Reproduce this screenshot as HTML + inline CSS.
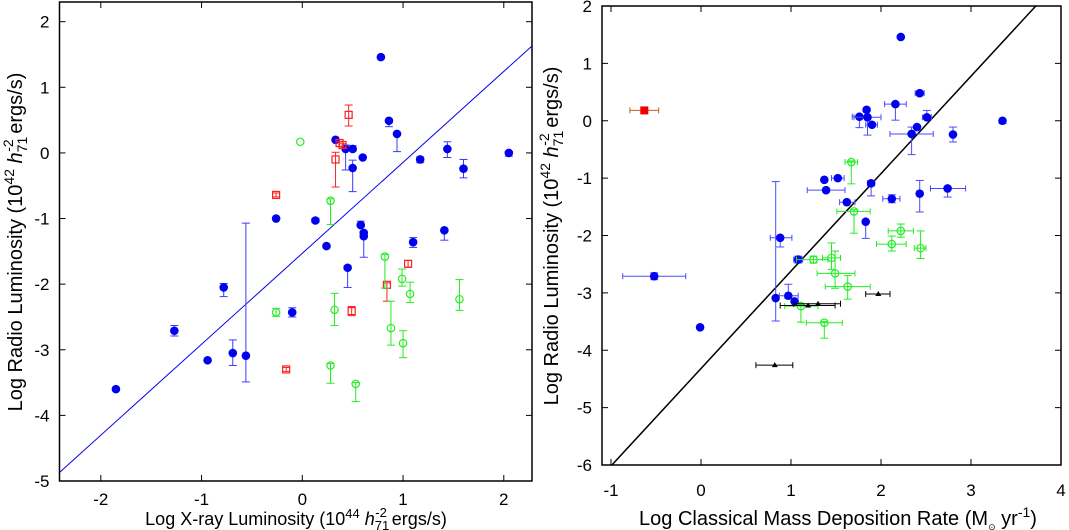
<!DOCTYPE html>
<html><head><meta charset="utf-8"><style>
html,body{margin:0;padding:0;background:#fff;width:1069px;height:530px;overflow:hidden}
svg{position:absolute;left:0;top:0}
text{font-family:"Liberation Sans",sans-serif;fill:#000}
</style></head><body>
<svg id="chart" width="1069" height="530"></svg>
<script>
// ---- Left panel data: [x, y, ylo, yhi]
const leftBlue = [
[-1.85,-3.60,-3.62,-3.58],[-1.27,-2.71,-2.79,-2.63],[-0.94,-3.16,-3.18,-3.14],[-0.78,-2.05,-2.19,-1.99],
[-0.69,-3.05,-3.24,-2.85],[-0.56,-3.09,-3.49,-1.07],[-0.26,-1.00,-1.02,-0.98],[-0.10,-2.43,-2.50,-2.36],
[0.13,-1.03,-1.06,-1.00],[0.24,-1.42,-1.44,-1.40],[0.33,0.20,0.18,0.22],[0.43,0.06,-0.26,0.12],
[0.50,0.06,0.03,0.11],[0.50,-0.23,-0.59,-0.11],[0.45,-1.75,-2.05,-1.72],[0.60,-0.07,-0.09,-0.05],
[0.58,-1.10,-1.12,-1.04],[0.61,-1.22,-1.24,-1.20],[0.61,-1.27,-1.59,-1.25],[0.78,1.46,1.44,1.48],
[0.86,0.49,0.40,0.51],[0.94,0.29,0.02,0.31],[1.10,-1.36,-1.44,-1.29],[1.17,-0.10,-0.15,-0.06],
[1.41,-1.18,-1.33,-1.16],[1.44,0.06,-0.07,0.17],[1.60,-0.24,-0.38,-0.10],[2.05,0.00,-0.05,0.02]];
const leftRed = [
[0.46,0.58,0.41,0.73],[0.37,0.15,0.10,0.17],[0.40,0.12,0.09,0.14],[0.33,-0.10,-0.52,0.01],
[-0.26,-0.64,-0.67,-0.61],[-0.16,-3.30,-3.33,-3.27],[0.49,-2.41,-2.48,-2.34],[0.84,-2.01,-2.26,-1.98],[1.05,-1.69,-1.74,-1.64]];
const leftGreen = [
[-0.02,0.17,0.15,0.19],[0.28,-0.73,-1.09,-0.70],[-0.26,-2.43,-2.49,-2.37],[0.32,-2.39,-2.63,-2.14],
[0.28,-3.24,-3.51,-3.21],[0.53,-3.52,-3.79,-3.50],[0.82,-1.58,-2.06,-1.55],[0.99,-1.92,-2.03,-1.77],
[1.07,-2.15,-2.28,-1.97],[0.88,-2.67,-2.93,-2.26],[1.00,-2.90,-3.12,-2.71],[1.56,-2.23,-2.40,-1.93]];
const leftFit = [[-2.41,-4.87],[2.28,1.63]];
const leftXTicks = [-2,-1,0,1,2];
const leftYTicks = [2,1,0,-1,-2,-3,-4,-5];
// ---- Right panel data: [x, y, xlo, xhi, ylo, yhi]
const rightBlue = [
[-0.52,-2.71,-0.87,-0.17,-2.77,-2.65],[-0.01,-3.60,-0.03,0.01,-3.62,-3.58],[0.88,-2.04,0.77,1.01,-2.20,-2.02],
[0.83,-3.09,0.82,0.84,-3.49,-1.06],[0.97,-3.05,0.87,1.08,-3.10,-2.85],[1.04,-3.15,1.02,1.06,-3.17,-3.13],
[1.08,-2.42,1.03,1.13,-2.48,-2.36],[1.37,-1.03,1.35,1.39,-1.05,-1.01],[1.52,-1.00,1.45,1.59,-1.02,-0.98],
[1.39,-1.21,1.18,1.60,-1.23,-1.19],[1.62,-1.42,1.54,1.71,-1.44,-1.40],[1.83,-1.76,1.81,1.85,-2.05,-1.74],
[1.76,0.07,1.68,1.84,-0.12,0.09],[1.84,0.19,1.82,1.86,0.17,0.21],[1.85,0.06,1.70,2.00,-0.25,0.08],
[1.90,-0.07,1.83,1.96,-0.09,-0.05],[1.89,-1.09,1.85,1.93,-1.31,-1.05],[2.16,0.29,2.04,2.28,0.01,0.31],
[2.22,1.46,2.20,2.24,1.44,1.48],[2.12,-1.36,2.02,2.21,-1.43,-1.29],[2.34,-0.23,2.10,2.58,-0.59,-0.11],
[2.40,-0.11,2.38,2.42,-0.13,-0.09],[2.43,0.48,2.38,2.48,0.46,0.50],[2.51,0.06,2.46,2.56,0.04,0.18],
[2.43,-1.27,2.41,2.45,-1.59,-1.04],[2.74,-1.18,2.55,2.94,-1.33,-1.16],[2.80,-0.24,2.78,2.82,-0.37,-0.11],
[3.35,0.00,3.33,3.37,-0.05,0.02]];
const rightRed = [[-0.63,0.18,-0.79,-0.47,0.16,0.20]];
const rightGreen = [
[1.67,-0.72,1.60,1.74,-1.10,-0.70],[1.70,-1.58,1.51,1.88,-1.96,-1.55],[2.22,-1.92,2.08,2.36,-2.03,-1.80],
[2.12,-2.15,1.95,2.28,-2.27,-2.01],[2.44,-2.22,2.37,2.50,-2.40,-1.92],[1.25,-2.42,1.06,1.41,-2.48,-2.36],
[1.45,-2.39,1.35,1.55,-2.59,-2.13],[1.49,-2.66,1.29,1.71,-2.92,-2.27],[1.63,-2.89,1.38,1.88,-3.11,-2.70],
[1.11,-3.23,0.93,1.30,-3.51,-3.20],[1.37,-3.52,1.17,1.57,-3.79,-3.50]];
const rightBlack = [[0.82,-4.26,0.61,1.02],[1.19,-3.22,0.88,1.49],[1.30,-3.19,1.03,1.55],[1.97,-3.02,1.83,2.10]];
const rightFit = [[-0.99,-6],[3.72,2]];
const rightXTicks = [-1,0,1,2,3,4];
const rightYTicks = [2,1,0,-1,-2,-3,-4,-5,-6];

const NS='http://www.w3.org/2000/svg';
const svg=document.getElementById('chart');
function mk(tag,attrs,parent){const e=document.createElementNS(NS,tag);for(const k in attrs)e.setAttribute(k,attrs[k]);(parent||svg).appendChild(e);return e;}

function panel(p){
  const g=mk('g',{});
  
  
  const sx=v=>p.L+(v-p.x0)/(p.x1-p.x0)*(p.R-p.L);
  const sy=v=>p.B-(v-p.y0)/(p.y1-p.y0)*(p.B-p.T);
  const fl=mk('line',{x1:sx(p.fit[0][0]),y1:sy(p.fit[0][1]),x2:sx(p.fit[1][0]),y2:sy(p.fit[1][1]),stroke:p.fitColor,'stroke-width':p.fitW},g);
  
  
  function series(arr,color,ecol,shape,sname,hasX){
    const sg=mk('g',{},g);
    
    
    arr.forEach(d=>{
      const cx=sx(d[0]),cy=sy(d[1]);
      let ylo,yhi;
      if(hasX){
        const xa=sx(d[2]),xb=sx(d[3]);
        if(xb-xa>3){
          mk('line',{x1:xa,y1:cy,x2:xb,y2:cy,stroke:ecol,'stroke-width':1},sg);
          mk('line',{x1:xa,y1:cy-3,x2:xa,y2:cy+3,stroke:ecol,'stroke-width':1},sg);
          mk('line',{x1:xb,y1:cy-3,x2:xb,y2:cy+3,stroke:ecol,'stroke-width':1},sg);
        }
        ylo=d[4];yhi=d[5];
      } else {ylo=d[2];yhi=d[3];}
      if(ylo!==undefined){
        const ya=sy(ylo),yb=sy(yhi);
        if(Math.abs(ya-yb)>3){
          mk('line',{x1:cx,y1:ya,x2:cx,y2:yb,stroke:ecol,'stroke-width':1},sg);
          mk('line',{x1:cx-4,y1:ya,x2:cx+4,y2:ya,stroke:ecol,'stroke-width':1},sg);
          mk('line',{x1:cx-4,y1:yb,x2:cx+4,y2:yb,stroke:ecol,'stroke-width':1},sg);
        }
      }
      let m;
      if(shape==='dot') m=mk('circle',{cx:cx,cy:cy,r:4.3,fill:color},sg);
      else if(shape==='ring') m=mk('circle',{cx:cx,cy:cy,r:3.7,fill:'none',stroke:color,'stroke-width':1.2},sg);
      else if(shape==='sq') m=mk('rect',{x:cx-3.5,y:cy-3.5,width:7,height:7,fill:'none',stroke:color,'stroke-width':1.2},sg);
      else if(shape==='fsq') m=mk('rect',{x:cx-4,y:cy-4,width:8,height:8,fill:color},sg);
      else m=mk('polygon',{points:(cx-3)+','+(cy+2)+' '+(cx+3)+','+(cy+2)+' '+cx+','+(cy-3),fill:color},sg);
      
      
    });
  }
  p.series.forEach(s=>series(s[0],s[1],s[2],s[3],s[4],p.hasX));
  const fr=mk('rect',{x:p.L,y:p.T,width:p.R-p.L,height:p.B-p.T,fill:'none',stroke:'#000','stroke-width':1.5},g);
  
  
  p.xt.forEach(v=>{
    const x=sx(v);
    mk('line',{x1:x,y1:p.B,x2:x,y2:p.B-6,stroke:'#000'},g);
    mk('line',{x1:x,y1:p.T,x2:x,y2:p.T+6,stroke:'#000'},g);
    const t=mk('text',{x:x,y:p.B+p.xlOff,'text-anchor':'middle','font-size':17},g);
    t.textContent=v;
    
    
  });
  p.yt.forEach(v=>{
    const y=sy(v);
    mk('line',{x1:p.L,y1:y,x2:p.L+6,y2:y,stroke:'#000'},g);
    mk('line',{x1:p.R,y1:y,x2:p.R-6,y2:y,stroke:'#000'},g);
    const t=mk('text',{x:p.L-10,y:y+6,'text-anchor':'end','font-size':17},g);
    t.textContent=v;
    
    
  });
}
panel({name:'left-panel',L:59.5,R:532,T:2,B:481,x0:-2.41,x1:2.28,y0:-5,y1:2.3,fit:leftFit,fitColor:'#0000ee',fitW:1,hasX:false,xlOff:24,
  xt:leftXTicks,yt:leftYTicks,
  series:[[leftBlue,'#0000ee','#3a3aff','dot','blue-series'],[leftRed,'#ff2020','#ff2020','sq','red-series'],[leftGreen,'#22ee22','#22ee22','ring','green-series']]});
panel({name:'right-panel',L:602,R:1061,T:6,B:465,x0:-1.1,x1:4,y0:-6,y1:2,fit:rightFit,fitColor:'#000',fitW:1.5,hasX:true,xlOff:31,
  xt:rightXTicks,yt:rightYTicks,
  series:[[rightBlue,'#0000ee','#4a4aff','dot','blue-series'],[rightRed,'#ee0000','#c06020','fsq','red-series'],[rightGreen,'#22ee22','#22ee22','ring','green-series'],[rightBlack,'#000','#000','tri','black-series']]});
</script>
<svg width="1069" height="530" style="pointer-events:none">
<text x="296" y="525" text-anchor="middle" font-size="18">Log X-ray Luminosity (10<tspan dy="-7" font-size="13">44</tspan><tspan dy="7"> </tspan><tspan font-style="italic">h</tspan><tspan dy="5" font-size="13">71</tspan><tspan dy="-13" dx="-14" font-size="13">-2</tspan><tspan dy="8"> ergs/s)</tspan></text>
<text transform="translate(22,242) rotate(-90)" text-anchor="middle" font-size="20">Log Radio Luminosity (10<tspan dy="-8" font-size="14">42</tspan><tspan dy="8"> </tspan><tspan font-style="italic">h</tspan><tspan dy="5" font-size="14">71</tspan><tspan dy="-14" dx="-15" font-size="14">-2</tspan><tspan dy="9"> ergs/s)</tspan></text>
<text x="838" y="525" text-anchor="middle" font-size="20">Log Classical Mass Deposition Rate (M<tspan dy="5" font-size="9">⊙</tspan><tspan dy="-5">  yr</tspan><tspan dy="-8" font-size="14">-1</tspan><tspan dy="8">)</tspan></text>
<text transform="translate(558,236) rotate(-90)" text-anchor="middle" font-size="20">Log Radio Luminosity (10<tspan dy="-8" font-size="14">42</tspan><tspan dy="8"> </tspan><tspan font-style="italic">h</tspan><tspan dy="5" font-size="14">71</tspan><tspan dy="-14" dx="-15" font-size="14">-2</tspan><tspan dy="9"> ergs/s)</tspan></text>
</svg>
</body></html>
